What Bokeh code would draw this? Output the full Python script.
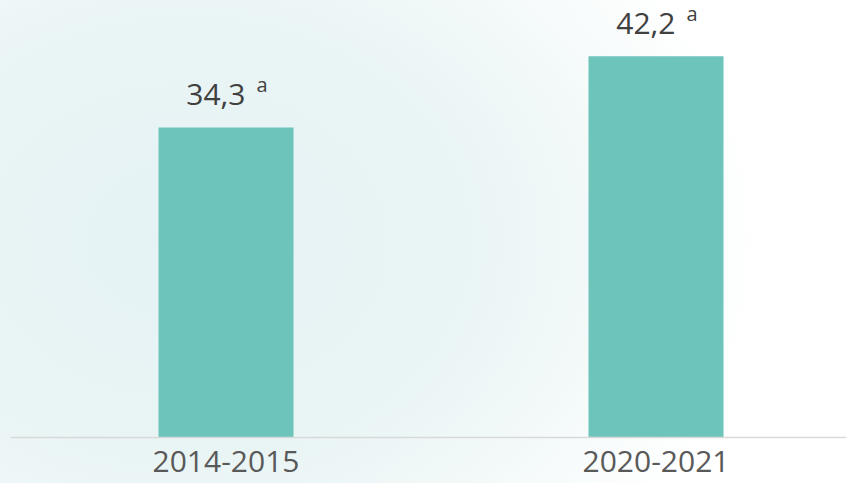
from bokeh.plotting import figure
from bokeh.models import Range1d, FixedTicker, ColumnDataSource
from bokeh.core.properties import value
from bokeh.embed import file_html
from bokeh.resources import INLINE

categories = ["2014-2015", "2020-2021"]
values = [34.3, 42.2]
value_labels = ["34,3", "42,2"]
notes = ["a", "a"]

xs = list(range(len(categories)))
src = ColumnDataSource(dict(x=xs, top=values, lab=value_labels, note=notes))

p = figure(width=846, height=483, output_backend="svg", toolbar_location=None,
           x_range=Range1d(-0.5012, 1.443), y_range=Range1d(0, 48.37),
           min_border_left=10, min_border_right=0, min_border_top=0, min_border_bottom=46)
p.background_fill_color = None
p.border_fill_color = None
p.outline_line_color = None
p.styles = {"background": "radial-gradient(ellipse 80% 110% at 22% 50%, #e5f2f3 0%, #e9f4f5 40%, #f3f9f9 62%, #ffffff 85%)"}

p.vbar(x="x", top="top", width=0.314, source=src, fill_color="#6CC4BB", line_color=None)

p.text(x="x", y="top", text="lab", source=src, text_align="right", text_baseline="alphabetic",
       x_offset=19.5, y_offset=-33, text_font=value("Open Sans"), text_font_size="30px",
       text_color="#404040")
p.text(x="x", y="top", text="note", source=src, text_align="left", text_baseline="alphabetic",
       x_offset=30.5, y_offset=-43, text_font=value("Open Sans"), text_font_size="20px",
       text_color="#404040")

p.xgrid.visible = False
p.ygrid.visible = False
p.yaxis.visible = False
p.xaxis.ticker = FixedTicker(ticks=xs)
p.xaxis.major_label_overrides = {i: c for i, c in zip(xs, categories)}
p.xaxis.major_tick_line_color = None
p.xaxis.minor_tick_line_color = None
p.xaxis.major_tick_out = 0
p.xaxis.major_tick_in = 0
p.xaxis.axis_line_color = "#D9D9D9"
p.xaxis.axis_line_width = 1.5
p.xaxis.major_label_standoff = 13
p.xaxis.major_label_text_font = "Open Sans"
p.xaxis.major_label_text_font_size = "30px"
p.xaxis.major_label_text_color = "#595959"

open("out.html", "w").write(file_html(p, INLINE))
